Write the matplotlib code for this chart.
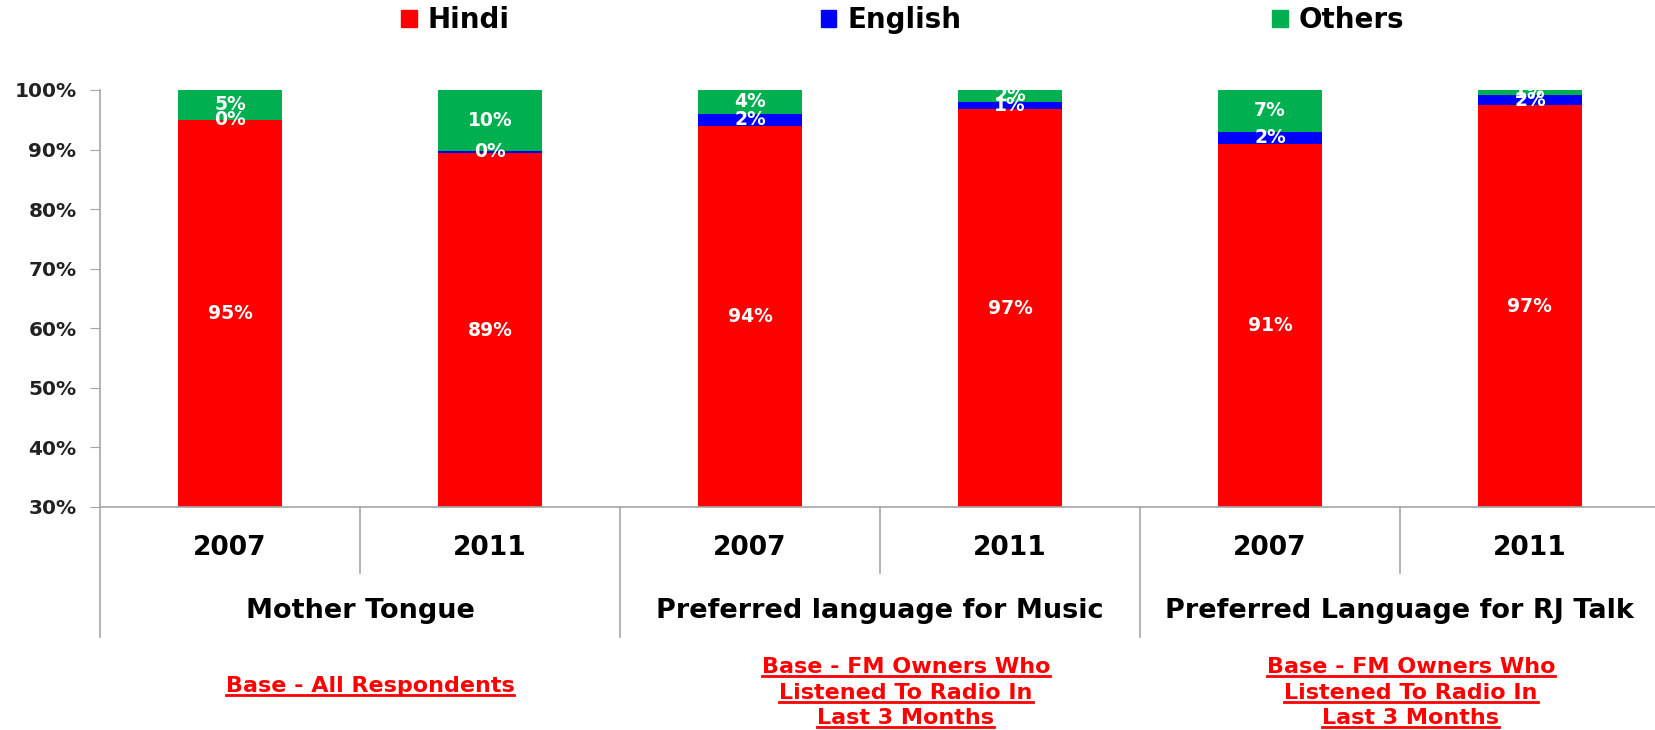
import matplotlib.pyplot as plt
from matplotlib.lines import Line2D
from matplotlib.patches import Patch

years = ["2007", "2011", "2007", "2011", "2007", "2011"]
groups = ["Mother Tongue", "Preferred language for Music", "Preferred Language for RJ Talk"]
hindi = [95.0, 89.4, 94.0, 96.8, 91.0, 97.4]
english = [0.0, 0.4, 2.0, 1.2, 2.0, 1.8]
others = [5.0, 10.2, 4.0, 2.0, 7.0, 0.8]
base_notes = [
    ["Base - All Respondents"],
    ["Base - FM Owners Who", "Listened To Radio In", "Last 3 Months"],
    ["Base - FM Owners Who", "Listened To Radio In", "Last 3 Months"],
]

RED = "#FF0000"
BLUE = "#0000FF"
GREEN = "#00B050"
GREY = "#A6A6A6"

W, H = 1656, 730
fig = plt.figure(figsize=(W / 100, H / 100), dpi=100)
ax = fig.add_axes([100 / W, 1 - 507 / H, 1 - 100 / W, (507 - 90) / H])

x = list(range(len(years)))
width = 0.4
ymin = 30

ax.bar(x, hindi, width, color=RED)
ax.bar(x, english, width, bottom=hindi, color=BLUE)
bottom2 = [a + b for a, b in zip(hindi, english)]
ax.bar(x, others, width, bottom=bottom2, color=GREEN)

lab_kw = dict(ha="center", va="center", color="white", fontweight="bold", fontsize=13.5)
for i in x:
    ax.text(i, (ymin + hindi[i]) / 2, f"{hindi[i]:.0f}%", **lab_kw)
    ax.text(i, hindi[i] + english[i] / 2, f"{english[i]:.0f}%", **lab_kw)
    ax.text(i, bottom2[i] + others[i] / 2, f"{others[i]:.0f}%", **lab_kw)

ax.set_ylim(ymin, 100)
ax.set_xlim(-0.5, 5.485)
ax.set_yticks(range(30, 101, 10))
ax.set_yticklabels([f"{v}%" for v in range(30, 101, 10)])
ax.tick_params(axis="y", direction="out", length=7, color=GREY, labelsize=14.5,
               labelcolor="#222222", pad=10)
for t in ax.get_yticklabels():
    t.set_fontweight("bold")
ax.set_xticks([])
for s in ["top", "right"]:
    ax.spines[s].set_visible(False)
for s in ["left", "bottom"]:
    ax.spines[s].set_color(GREY)
    ax.spines[s].set_linewidth(1.2)

tr = ax.get_xaxis_transform()
# separators between years and between groups
for k in range(len(years)):
    xb = k - 0.5
    y_end = -0.312 if k % 2 == 0 else -0.158
    ax.plot([xb, xb], [0, y_end], color=GREY, lw=1.2, transform=tr, clip_on=False)
for i in x:
    ax.text(i, -0.098, years[i], transform=tr, ha="center", va="center",
            fontsize=19, fontweight="bold")
for g, name in enumerate(groups):
    ax.text(2 * g + 0.5, -0.249, name, transform=tr, ha="center", va="center",
            fontsize=19.5, fontweight="bold")

# red underlined notes
note_x = [370, 906, 1411]
note_y = [[686], [667, 693, 718], [667, 693, 718]]
fig.canvas.draw()
renderer = fig.canvas.get_renderer()
for g, lines in enumerate(base_notes):
    for line, yy in zip(lines, note_y[g]):
        t = fig.text(note_x[g] / W, 1 - yy / H, line, ha="center", va="center",
                     color=RED, fontsize=16, fontweight="bold")
        bb = t.get_window_extent(renderer)
        fig.add_artist(Line2D([bb.x0 / W, bb.x1 / W], [(bb.y0 + 1) / H] * 2,
                              color=RED, lw=2))

handles = [Patch(color=RED), Patch(color=BLUE), Patch(color=GREEN)]
fig.legend(handles, ["Hindi", "English", "Others"], loc="center",
           bbox_to_anchor=(903 / W, 1 - 20 / H), ncol=3, frameon=False,
           prop=dict(size=20, weight="bold"), columnspacing=11.2,
           handlelength=0.55, handleheight=0.55, handletextpad=0.4)

fig.savefig("out.png", dpi=100)
